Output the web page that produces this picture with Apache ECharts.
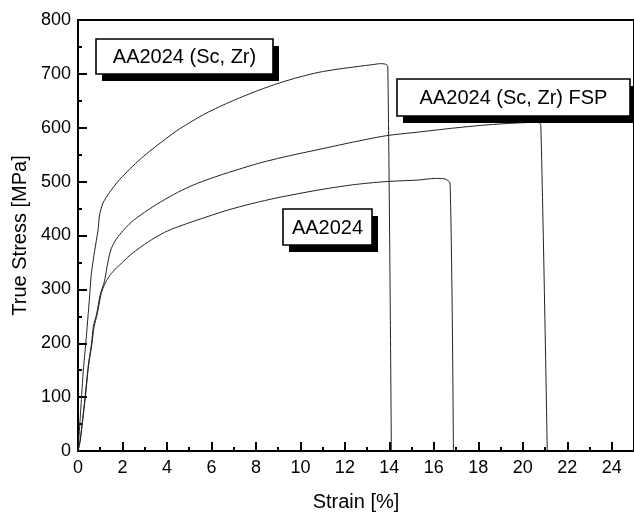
<!DOCTYPE html>
<html>
<head>
<meta charset="utf-8">
<script src="https://cdn.jsdelivr.net/npm/echarts@6/dist/echarts.min.js"></script>
<style>
html,body{margin:0;padding:0;background:#fff;}
#chart{width:634px;height:517px;}
</style>
</head>
<body>
<div id="chart"></div>
<script>
// Strain [%] and True Stress [MPa]
var scZrStrain = [0, 0.09, 0.16, 0.24, 0.35, 0.52, 0.6, 0.75, 0.9, 0.97, 1.12, 1.42, 1.79, 2.2, 2.7, 3.21, 3.9, 4.57, 5.76, 6.95, 8.15, 9.05, 9.94, 10.84, 11.73, 12.63, 13.22, 13.6, 13.82, 13.93, 14.09];
var scZrStress = [0, 55, 100, 150, 200, 286, 329, 372, 410, 438, 460, 480, 500, 518, 538, 556, 578, 598, 627, 650, 670, 683, 694, 703, 709, 714, 717, 719, 718, 714, 0];

var fspStrain = [0, 0.09, 0.21, 0.31, 0.46, 0.61, 0.69, 0.84, 1.0, 1.19, 1.34, 1.49, 1.7, 1.94, 2.4, 2.99, 3.7, 4.48, 5.2, 5.97, 7.0, 8.21, 9.4, 10.75, 12.33, 13.82, 15.31, 16.8, 18.3, 19.8, 20.69, 20.81, 21.1];
var fspStress = [0, 17, 60, 97, 158, 200, 231, 255, 290, 315, 350, 375, 392, 405, 425, 443, 462, 480, 494, 506, 520, 535, 547, 559, 573, 585, 592, 599, 605, 609, 610, 605, 0];

var aaStrain = [0, 0.1, 0.22, 0.33, 0.48, 0.63, 0.72, 0.87, 1.03, 1.15, 1.28, 1.45, 1.73, 2.0, 2.24, 2.7, 3.3, 3.9, 4.48, 5.6, 6.72, 7.8, 8.96, 10.75, 12.33, 13.82, 15.31, 16.06, 16.5, 16.73, 16.88];
var aaStress = [0, 20, 60, 100, 160, 200, 230, 255, 290, 305, 316, 327, 340, 350, 360, 375, 392, 406, 416, 432, 447, 459, 470, 484, 494, 500, 503, 506, 505, 497, 0];

var seriesNames = ['AA2024 (Sc, Zr)', 'AA2024 (Sc, Zr) FSP', 'AA2024'];
var xTitle = 'Strain [%]';
var yTitle = 'True Stress [MPa]';

function pairs(xs, ys) { return xs.map(function (x, i) { return [x, ys[i]]; }); }

var FONT = 'Liberation Sans, Arial, sans-serif';
var chart = echarts.init(document.getElementById('chart'));

function labelBox(x, y, w, h, text) {
  return [
    { type: 'rect', shape: { x: x + 6, y: y + 7, width: w, height: h }, style: { fill: '#000' }, z: 100 },
    { type: 'rect', shape: { x: x, y: y, width: w, height: h }, style: { fill: '#fff', stroke: '#000', lineWidth: 1.6 }, z: 101 },
    { type: 'text', x: x + w / 2, y: y + h / 2 + 1, style: { text: text, fontSize: 20, fontFamily: FONT, fill: '#000', align: 'center', verticalAlign: 'middle' }, z: 102 }
  ];
}

var lineStyle = { color: '#222', width: 1 };
function lineSeries(name, xs, ys) {
  return { name: name, type: 'line', data: pairs(xs, ys), showSymbol: false, symbol: 'none',
           smooth: 0.25, lineStyle: lineStyle };
}

chart.setOption({
  animation: false,
  backgroundColor: '#fff',
  grid: { left: 78, top: 20, width: 557, bottom: 61, show: true, borderColor: '#000', borderWidth: 2, backgroundColor: 'transparent' },
  xAxis: {
    type: 'value', min: 0, max: 25, interval: 2,
    name: xTitle, nameLocation: 'middle', nameGap: 41,
    nameTextStyle: { fontSize: 20, fontFamily: FONT, color: '#000' },
    axisLine: { lineStyle: { color: '#000', width: 2 } },
    axisTick: { inside: true, length: 9, lineStyle: { color: '#000', width: 2 } },
    minorTick: { show: true, splitNumber: 2, length: 4, lineStyle: { color: '#000', width: 2 } },
    axisLabel: { fontSize: 18, fontFamily: FONT, color: '#000', margin: 8, showMaxLabel: false },
    splitLine: { show: false }
  },
  yAxis: {
    type: 'value', min: 0, max: 800, interval: 100,
    name: yTitle, nameLocation: 'middle', nameGap: 46,
    nameTextStyle: { fontSize: 20, fontFamily: FONT, color: '#000' },
    axisLine: { show: true, lineStyle: { color: '#000', width: 2 } },
    axisTick: { show: true, inside: true, length: 9, lineStyle: { color: '#000', width: 2 } },
    minorTick: { show: true, splitNumber: 2, length: 4, lineStyle: { color: '#000', width: 2 } },
    axisLabel: { fontSize: 18, fontFamily: FONT, color: '#000', margin: 7 },
    splitLine: { show: false }
  },
  series: [
    lineSeries(seriesNames[0], scZrStrain, scZrStress),
    lineSeries(seriesNames[1], fspStrain, fspStress),
    lineSeries(seriesNames[2], aaStrain, aaStress)
  ],
  graphic: [].concat(
    labelBox(96, 39, 177, 35, seriesNames[0]),
    labelBox(397, 79, 233, 37, seriesNames[1]),
    labelBox(283, 209, 89, 36, seriesNames[2])
  )
});
</script>
</body>
</html>
